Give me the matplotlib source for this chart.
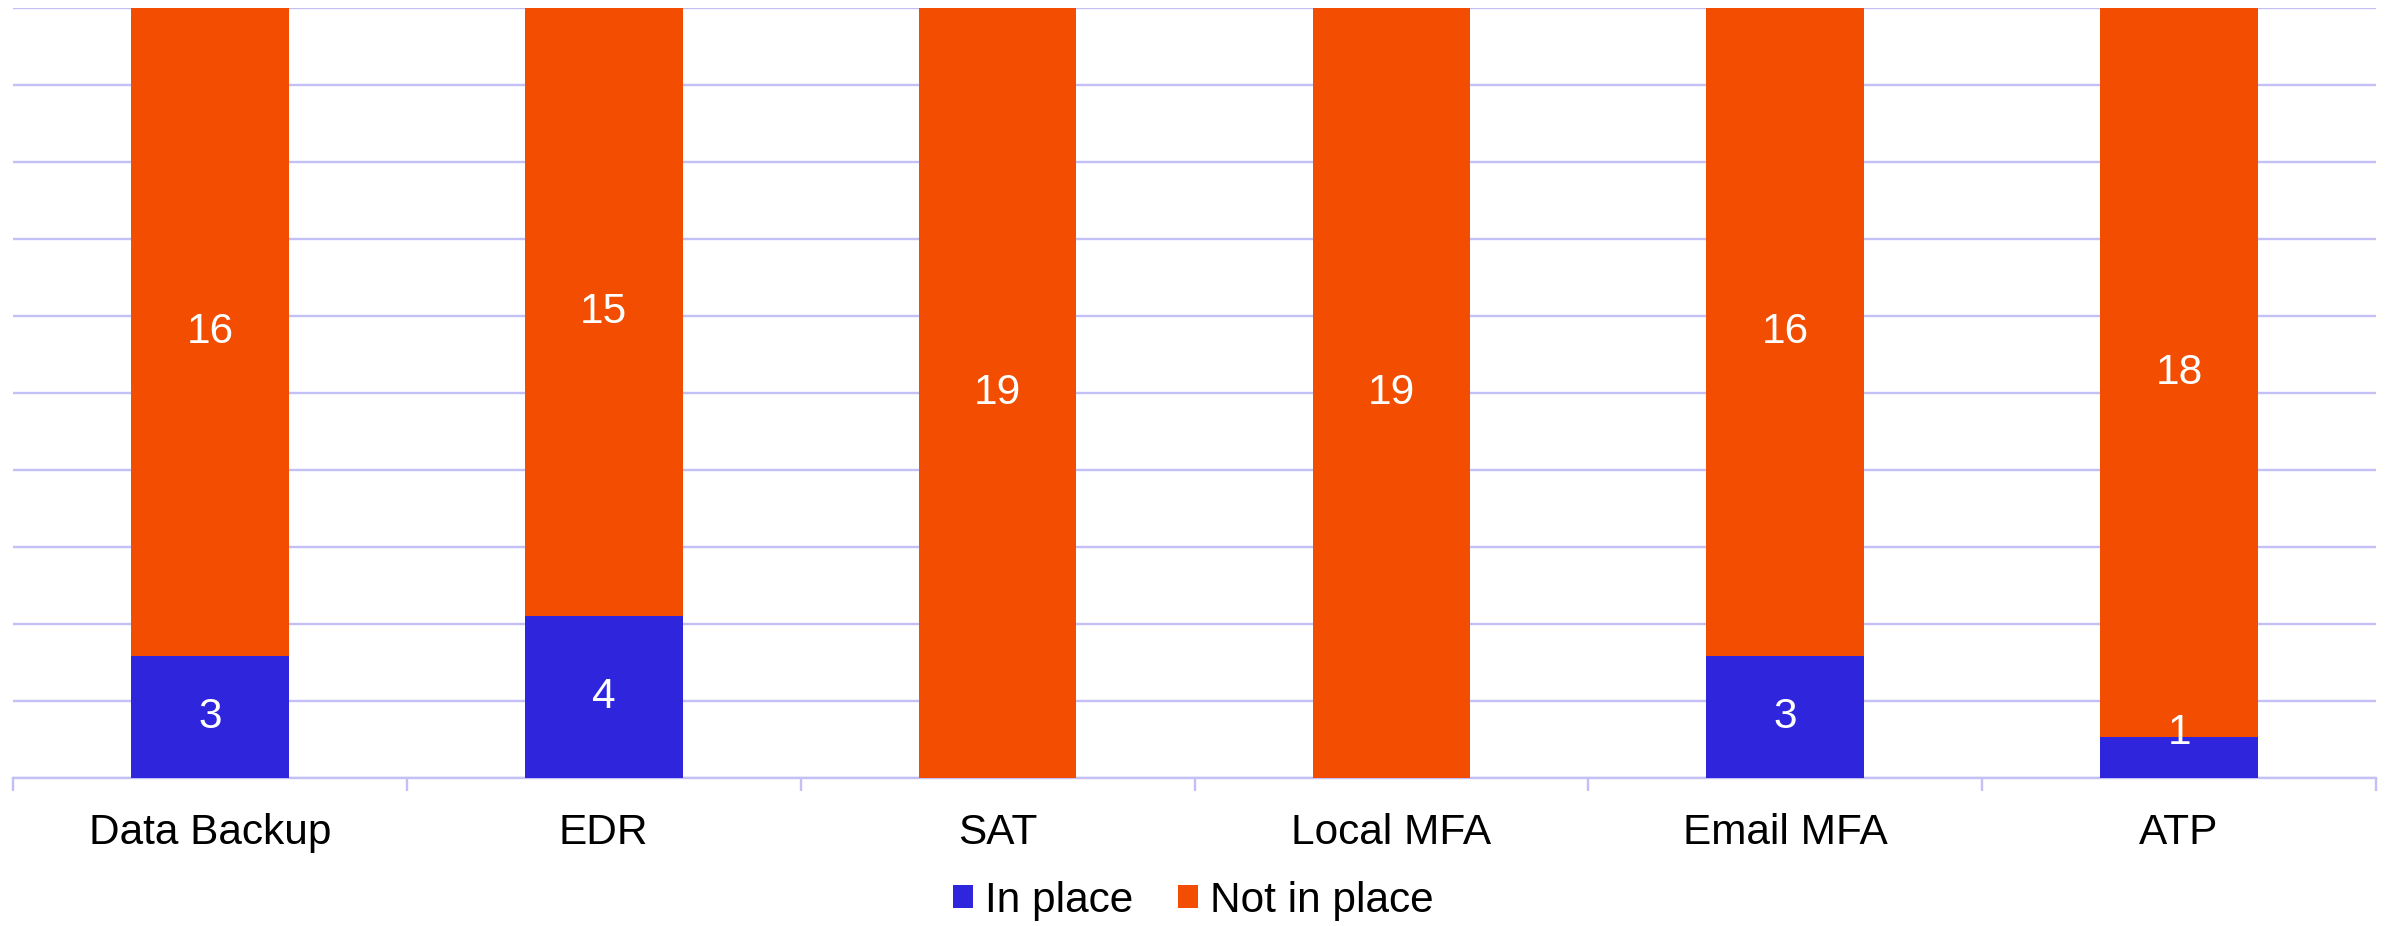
import matplotlib
matplotlib.use("Agg")
import matplotlib.pyplot as plt
import numpy as np

categories = ["Data Backup", "EDR", "SAT", "Local MFA", "Email MFA", "ATP"]
in_place = [3, 4, 0, 0, 3, 1]
not_in_place = [16, 15, 19, 19, 16, 18]
series_names = ["In place", "Not in place"]

blue = "#2e25dc"
orange = "#f24d00"
grid_c = "#c2c0f4"

plt.rcParams['font.family'] = ['Liberation Sans', 'DejaVu Sans']

W, H = 2387, 926
fig = plt.figure(figsize=(W / 100, H / 100), dpi=100)
left, right, top, bottom = 13, 2376, 8, 778
ax = fig.add_axes([left / W, 1 - bottom / H, (right - left) / W, (bottom - top) / H])

x = np.arange(len(categories))
totals = np.array(in_place) + np.array(not_in_place)
ymax = totals.max()
b1 = ax.bar(x, in_place, width=0.4, color=blue, label=series_names[0], zorder=3)
b2 = ax.bar(x, not_in_place, width=0.4, bottom=in_place, color=orange, label=series_names[1], zorder=3)

FS = 30.5
for i in range(len(categories)):
    if in_place[i] > 0:
        yl = in_place[i] / 2 if in_place[i] >= 1.5 else in_place[i] * 1.1
        ax.text(x[i], yl, str(in_place[i]), ha='center', va='center',
                color='white', fontsize=FS, zorder=4)
    if not_in_place[i] > 0:
        ax.text(x[i], in_place[i] + not_in_place[i] / 2, str(not_in_place[i]), ha='center',
                va='center', color='white', fontsize=FS, zorder=4)

ax.set_xlim(-0.5, len(categories) - 0.5)
ax.set_ylim(0, ymax)
ax.set_yticks(np.linspace(0, ymax, 11))
ax.yaxis.grid(True, color=grid_c, linewidth=1.7, zorder=0)
ax.tick_params(axis='y', left=False, labelleft=False)
for s in ['left', 'right', 'top']:
    ax.spines[s].set_visible(False)
ax.spines['bottom'].set_color(grid_c)
ax.spines['bottom'].set_linewidth(1.7)
ax.set_xticks(x)
ax.set_xticklabels(categories, fontsize=FS)
ax.tick_params(axis='x', which='major', length=0, pad=25)
ax.set_xticks(np.arange(-0.5, len(categories), 1), minor=True)
ax.tick_params(axis='x', which='minor', length=9, width=1.7, color=grid_c, direction='out')

fig.legend(handles=[b1, b2], labels=series_names, loc='center', bbox_to_anchor=(0.5, 1 - 901 / H),
           ncol=2, frameon=False, fontsize=FS, handlelength=0.46, handleheight=0.46,
           handletextpad=0.3, columnspacing=1.05)

fig.savefig("out.png", dpi=100)
